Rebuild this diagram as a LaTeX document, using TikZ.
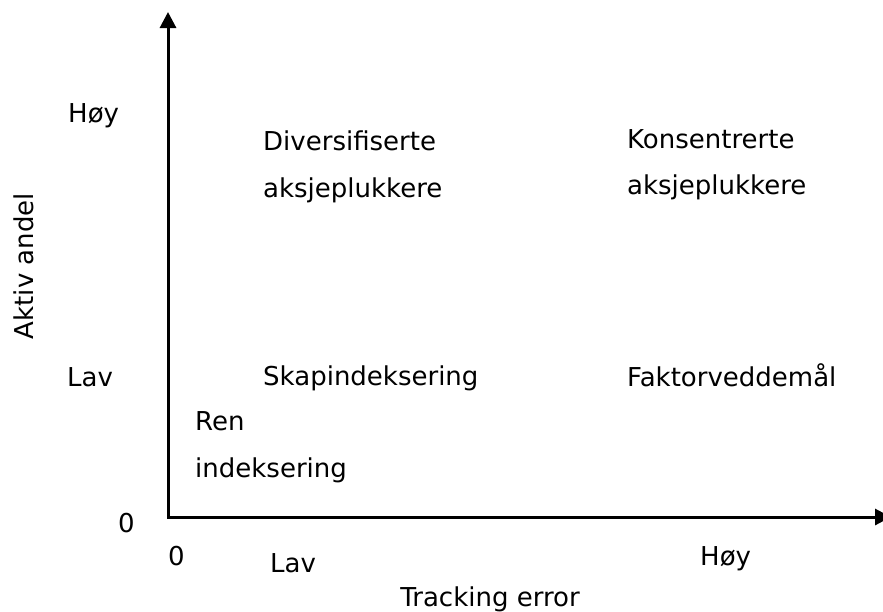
\documentclass[tikz,border=0pt]{standalone}
\usepackage{fontspec}
\setmainfont{DejaVu Sans}
\usetikzlibrary{arrows.meta,positioning,calc}

\tikzset{
  axisline/.style={line width=3pt,{Triangle[length=16pt,width=16pt]}-{Triangle[length=16pt,width=16pt]}},
  lbl/.style={anchor=base west,inner sep=0pt},
}

\begin{document}
\begin{tikzpicture}[x=1pt,y=-1pt,font=\fontsize{26}{31}\selectfont]
\useasboundingbox (0,0) rectangle (883,611);
% axes
\coordinate (O) at (168,517);
\coordinate (ytop) at (168,12);
\coordinate (xend) at (891,517);
\draw[axisline] (ytop) -- (O) -- (xend);
% axis titles
\node[anchor=base,rotate=90,inner sep=0pt] (ytitle) at (33,266) {Aktiv andel};
\node[anchor=base,inner sep=0pt] (xtitle) at (490,606) {Tracking error};
% ticks
\node[lbl] (yhoy) at (68,122) {Høy};
\node[lbl] (ylav) at (67,386) {Lav};
\node[lbl] (yzero) at (118,532) {0};
\node[lbl] (xzero) at (168,565) {0};
\node[lbl] (xlav) at (270,572) {Lav};
\node[lbl] (xhoy) at (700,565) {Høy};
% quadrants
\node[lbl] (div) at (263,150) {Diversifiserte};
\node[lbl] (divb) at (263,197) {aksjeplukkere};
\node[lbl] (kons) at (627,148) {Konsentrerte};
\node[lbl] (konsb) at (627,194) {aksjeplukkere};
\node[lbl] (skap) at (263,385) {Skapindeksering};
\node[lbl] (fakt) at (627,386) {Faktorveddemål};
\node[lbl] (ren) at (195,430) {Ren};
\node[lbl] (renb) at (195,477) {indeksering};
\end{tikzpicture}
\end{document}
